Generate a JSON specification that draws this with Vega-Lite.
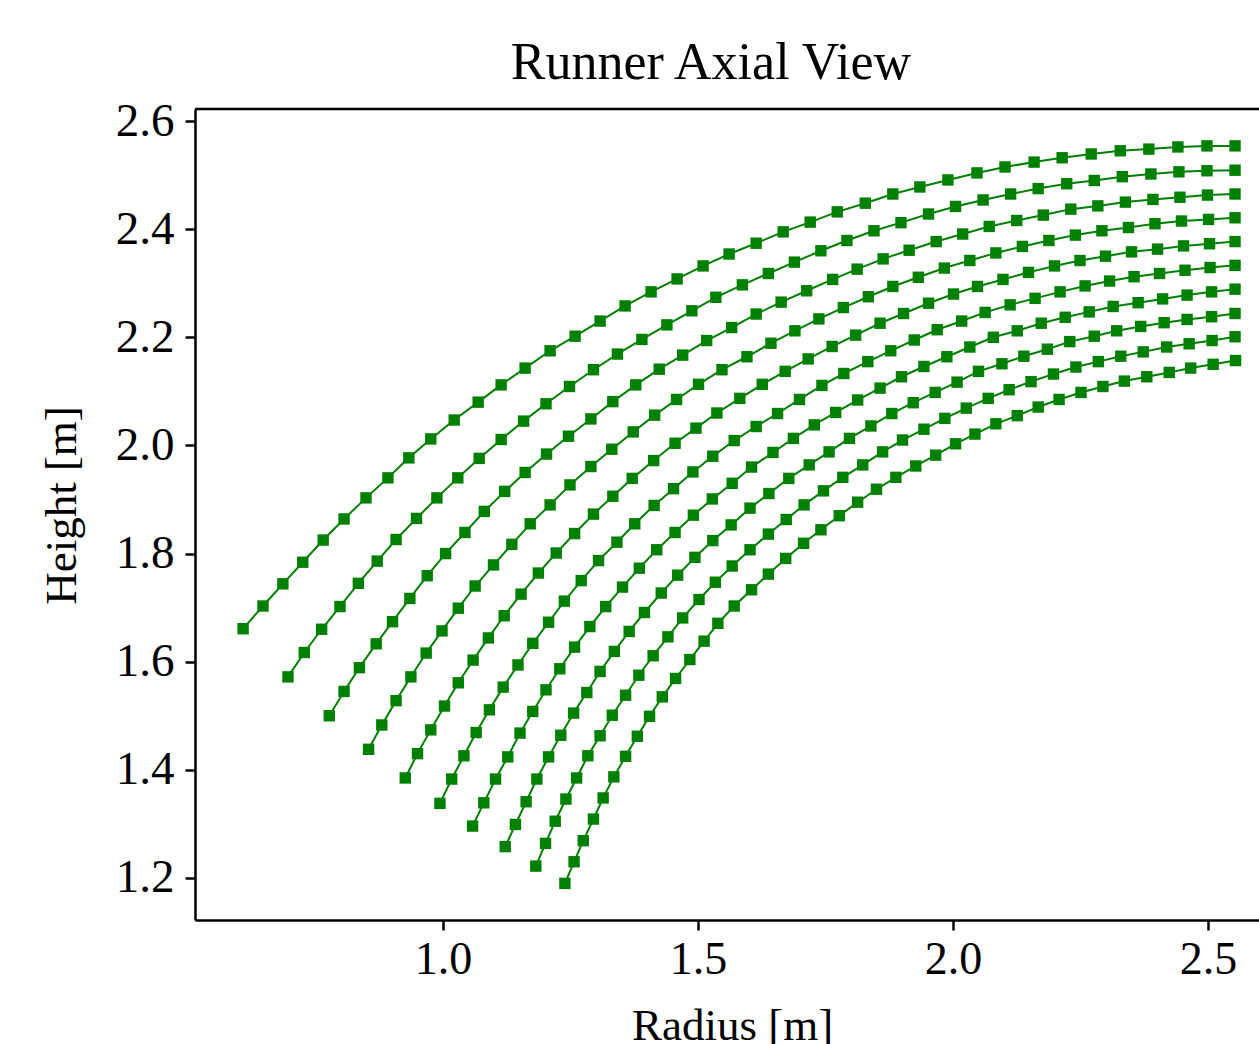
{
  "$schema": "https://vega.github.io/schema/vega-lite/v6.json",
  "width": 1064,
  "height": 811,
  "autosize": {"type": "none"},
  "padding": {"left": 195, "top": 109, "right": 0, "bottom": 124},
  "background": "white",
  "config": {"view": {"stroke": null}, "font": "Liberation Serif"},
  "title": {"text": "Runner Axial View", "font": "Liberation Serif", "fontSize": 52, "fontWeight": "normal", "color": "black", "anchor": "middle", "frame": "group", "dx": -16, "dy": 46, "offset": 12, "baseline": "alphabetic"},
  "layer": [
    {
      "data": {"values": [
        {"c":1,"r":0.608,"h":1.661},{"c":1,"r":0.647,"h":1.703},{"c":1,"r":0.686,"h":1.744},{"c":1,"r":0.725,"h":1.784},{"c":1,"r":0.765,"h":1.825},{"c":1,"r":0.806,"h":1.864},{"c":1,"r":0.849,"h":1.903},{"c":1,"r":0.892,"h":1.940},{"c":1,"r":0.933,"h":1.977},{"c":1,"r":0.976,"h":2.012},
        {"c":1,"r":1.022,"h":2.047},{"c":1,"r":1.069,"h":2.080},{"c":1,"r":1.114,"h":2.112},{"c":1,"r":1.161,"h":2.143},{"c":1,"r":1.210,"h":2.175},{"c":1,"r":1.259,"h":2.202},{"c":1,"r":1.308,"h":2.230},{"c":1,"r":1.357,"h":2.258},{"c":1,"r":1.408,"h":2.284},{"c":1,"r":1.459,"h":2.308},
        {"c":1,"r":1.510,"h":2.332},{"c":1,"r":1.561,"h":2.354},{"c":1,"r":1.614,"h":2.374},{"c":1,"r":1.667,"h":2.395},{"c":1,"r":1.720,"h":2.413},{"c":1,"r":1.773,"h":2.432},{"c":1,"r":1.828,"h":2.448},{"c":1,"r":1.882,"h":2.465},{"c":1,"r":1.935,"h":2.478},{"c":1,"r":1.990,"h":2.491},
        {"c":1,"r":2.047,"h":2.504},{"c":1,"r":2.102,"h":2.515},{"c":1,"r":2.159,"h":2.524},{"c":1,"r":2.214,"h":2.532},{"c":1,"r":2.271,"h":2.539},{"c":1,"r":2.328,"h":2.545},{"c":1,"r":2.384,"h":2.548},{"c":1,"r":2.441,"h":2.552},{"c":1,"r":2.498,"h":2.554},{"c":1,"r":2.553,"h":2.554},
        {"c":2,"r":0.696,"h":1.572},{"c":2,"r":0.728,"h":1.617},{"c":2,"r":0.762,"h":1.660},{"c":2,"r":0.798,"h":1.702},{"c":2,"r":0.834,"h":1.745},{"c":2,"r":0.871,"h":1.786},{"c":2,"r":0.908,"h":1.826},{"c":2,"r":0.948,"h":1.865},{"c":2,"r":0.988,"h":1.903},{"c":2,"r":1.029,"h":1.940},
        {"c":2,"r":1.071,"h":1.976},{"c":2,"r":1.114,"h":2.011},{"c":2,"r":1.158,"h":2.045},{"c":2,"r":1.202,"h":2.077},{"c":2,"r":1.248,"h":2.109},{"c":2,"r":1.295,"h":2.140},{"c":2,"r":1.342,"h":2.169},{"c":2,"r":1.390,"h":2.196},{"c":2,"r":1.439,"h":2.223},{"c":2,"r":1.488,"h":2.249},
        {"c":2,"r":1.535,"h":2.274},{"c":2,"r":1.587,"h":2.297},{"c":2,"r":1.638,"h":2.318},{"c":2,"r":1.689,"h":2.339},{"c":2,"r":1.741,"h":2.360},{"c":2,"r":1.792,"h":2.379},{"c":2,"r":1.845,"h":2.397},{"c":2,"r":1.898,"h":2.412},{"c":2,"r":1.952,"h":2.428},{"c":2,"r":2.005,"h":2.442},
        {"c":2,"r":2.059,"h":2.454},{"c":2,"r":2.113,"h":2.465},{"c":2,"r":2.167,"h":2.475},{"c":2,"r":2.223,"h":2.484},{"c":2,"r":2.277,"h":2.490},{"c":2,"r":2.332,"h":2.497},{"c":2,"r":2.388,"h":2.502},{"c":2,"r":2.443,"h":2.506},{"c":2,"r":2.498,"h":2.508},{"c":2,"r":2.553,"h":2.509},
        {"c":3,"r":0.777,"h":1.500},{"c":3,"r":0.806,"h":1.545},{"c":3,"r":0.836,"h":1.589},{"c":3,"r":0.869,"h":1.633},{"c":3,"r":0.901,"h":1.674},{"c":3,"r":0.935,"h":1.717},{"c":3,"r":0.969,"h":1.759},{"c":3,"r":1.005,"h":1.800},{"c":3,"r":1.043,"h":1.839},{"c":3,"r":1.081,"h":1.878},
        {"c":3,"r":1.121,"h":1.915},{"c":3,"r":1.161,"h":1.950},{"c":3,"r":1.203,"h":1.984},{"c":3,"r":1.246,"h":2.017},{"c":3,"r":1.290,"h":2.049},{"c":3,"r":1.333,"h":2.081},{"c":3,"r":1.378,"h":2.112},{"c":3,"r":1.424,"h":2.141},{"c":3,"r":1.470,"h":2.167},{"c":3,"r":1.517,"h":2.194},
        {"c":3,"r":1.566,"h":2.218},{"c":3,"r":1.614,"h":2.243},{"c":3,"r":1.663,"h":2.265},{"c":3,"r":1.713,"h":2.286},{"c":3,"r":1.764,"h":2.307},{"c":3,"r":1.812,"h":2.326},{"c":3,"r":1.863,"h":2.345},{"c":3,"r":1.914,"h":2.361},{"c":3,"r":1.967,"h":2.377},{"c":3,"r":2.019,"h":2.391},
        {"c":3,"r":2.071,"h":2.405},{"c":3,"r":2.125,"h":2.416},{"c":3,"r":2.177,"h":2.426},{"c":3,"r":2.231,"h":2.437},{"c":3,"r":2.284,"h":2.443},{"c":3,"r":2.338,"h":2.450},{"c":3,"r":2.392,"h":2.455},{"c":3,"r":2.445,"h":2.459},{"c":3,"r":2.499,"h":2.463},{"c":3,"r":2.553,"h":2.465},
        {"c":4,"r":0.854,"h":1.438},{"c":4,"r":0.880,"h":1.483},{"c":4,"r":0.908,"h":1.528},{"c":4,"r":0.937,"h":1.572},{"c":4,"r":0.967,"h":1.616},{"c":4,"r":0.998,"h":1.657},{"c":4,"r":1.030,"h":1.699},{"c":4,"r":1.063,"h":1.740},{"c":4,"r":1.099,"h":1.779},{"c":4,"r":1.135,"h":1.817},
        {"c":4,"r":1.171,"h":1.855},{"c":4,"r":1.210,"h":1.890},{"c":4,"r":1.249,"h":1.927},{"c":4,"r":1.290,"h":1.961},{"c":4,"r":1.331,"h":1.993},{"c":4,"r":1.373,"h":2.025},{"c":4,"r":1.415,"h":2.056},{"c":4,"r":1.458,"h":2.085},{"c":4,"r":1.501,"h":2.113},{"c":4,"r":1.547,"h":2.140},
        {"c":4,"r":1.596,"h":2.164},{"c":4,"r":1.643,"h":2.189},{"c":4,"r":1.690,"h":2.212},{"c":4,"r":1.737,"h":2.234},{"c":4,"r":1.785,"h":2.255},{"c":4,"r":1.834,"h":2.275},{"c":4,"r":1.882,"h":2.294},{"c":4,"r":1.932,"h":2.311},{"c":4,"r":1.983,"h":2.328},{"c":4,"r":2.033,"h":2.342},
        {"c":4,"r":2.084,"h":2.356},{"c":4,"r":2.136,"h":2.368},{"c":4,"r":2.188,"h":2.379},{"c":4,"r":2.240,"h":2.389},{"c":4,"r":2.292,"h":2.397},{"c":4,"r":2.344,"h":2.403},{"c":4,"r":2.396,"h":2.410},{"c":4,"r":2.448,"h":2.415},{"c":4,"r":2.501,"h":2.418},{"c":4,"r":2.553,"h":2.421},
        {"c":5,"r":0.926,"h":1.385},{"c":5,"r":0.950,"h":1.430},{"c":5,"r":0.976,"h":1.474},{"c":5,"r":1.003,"h":1.518},{"c":5,"r":1.030,"h":1.561},{"c":5,"r":1.059,"h":1.603},{"c":5,"r":1.089,"h":1.644},{"c":5,"r":1.120,"h":1.685},{"c":5,"r":1.153,"h":1.725},{"c":5,"r":1.187,"h":1.764},
        {"c":5,"r":1.222,"h":1.801},{"c":5,"r":1.258,"h":1.837},{"c":5,"r":1.295,"h":1.873},{"c":5,"r":1.333,"h":1.906},{"c":5,"r":1.371,"h":1.939},{"c":5,"r":1.413,"h":1.972},{"c":5,"r":1.455,"h":2.004},{"c":5,"r":1.496,"h":2.032},{"c":5,"r":1.537,"h":2.060},{"c":5,"r":1.582,"h":2.087},
        {"c":5,"r":1.626,"h":2.113},{"c":5,"r":1.671,"h":2.137},{"c":5,"r":1.716,"h":2.160},{"c":5,"r":1.763,"h":2.183},{"c":5,"r":1.809,"h":2.204},{"c":5,"r":1.857,"h":2.226},{"c":5,"r":1.903,"h":2.244},{"c":5,"r":1.952,"h":2.263},{"c":5,"r":2.001,"h":2.280},{"c":5,"r":2.048,"h":2.294},
        {"c":5,"r":2.098,"h":2.307},{"c":5,"r":2.148,"h":2.320},{"c":5,"r":2.199,"h":2.332},{"c":5,"r":2.249,"h":2.342},{"c":5,"r":2.299,"h":2.350},{"c":5,"r":2.350,"h":2.358},{"c":5,"r":2.401,"h":2.363},{"c":5,"r":2.452,"h":2.369},{"c":5,"r":2.503,"h":2.373},{"c":5,"r":2.553,"h":2.377},
        {"c":6,"r":0.994,"h":1.338},{"c":6,"r":1.017,"h":1.383},{"c":6,"r":1.041,"h":1.426},{"c":6,"r":1.065,"h":1.469},{"c":6,"r":1.091,"h":1.511},{"c":6,"r":1.118,"h":1.553},{"c":6,"r":1.147,"h":1.594},{"c":6,"r":1.176,"h":1.634},{"c":6,"r":1.207,"h":1.673},{"c":6,"r":1.238,"h":1.712},
        {"c":6,"r":1.271,"h":1.750},{"c":6,"r":1.305,"h":1.787},{"c":6,"r":1.341,"h":1.821},{"c":6,"r":1.376,"h":1.855},{"c":6,"r":1.414,"h":1.889},{"c":6,"r":1.452,"h":1.920},{"c":6,"r":1.490,"h":1.951},{"c":6,"r":1.529,"h":1.980},{"c":6,"r":1.571,"h":2.009},{"c":6,"r":1.614,"h":2.035},
        {"c":6,"r":1.656,"h":2.059},{"c":6,"r":1.699,"h":2.085},{"c":6,"r":1.743,"h":2.111},{"c":6,"r":1.786,"h":2.133},{"c":6,"r":1.833,"h":2.155},{"c":6,"r":1.878,"h":2.175},{"c":6,"r":1.924,"h":2.195},{"c":6,"r":1.969,"h":2.214},{"c":6,"r":2.017,"h":2.230},{"c":6,"r":2.063,"h":2.246},
        {"c":6,"r":2.112,"h":2.260},{"c":6,"r":2.161,"h":2.272},{"c":6,"r":2.210,"h":2.284},{"c":6,"r":2.259,"h":2.295},{"c":6,"r":2.307,"h":2.304},{"c":6,"r":2.355,"h":2.312},{"c":6,"r":2.405,"h":2.318},{"c":6,"r":2.455,"h":2.324},{"c":6,"r":2.504,"h":2.329},{"c":6,"r":2.553,"h":2.333},
        {"c":7,"r":1.058,"h":1.296},{"c":7,"r":1.080,"h":1.339},{"c":7,"r":1.103,"h":1.383},{"c":7,"r":1.127,"h":1.424},{"c":7,"r":1.151,"h":1.468},{"c":7,"r":1.176,"h":1.508},{"c":7,"r":1.202,"h":1.548},{"c":7,"r":1.229,"h":1.587},{"c":7,"r":1.258,"h":1.627},{"c":7,"r":1.288,"h":1.665},
        {"c":7,"r":1.319,"h":1.702},{"c":7,"r":1.352,"h":1.738},{"c":7,"r":1.385,"h":1.773},{"c":7,"r":1.419,"h":1.807},{"c":7,"r":1.455,"h":1.839},{"c":7,"r":1.491,"h":1.871},{"c":7,"r":1.528,"h":1.901},{"c":7,"r":1.567,"h":1.930},{"c":7,"r":1.605,"h":1.960},{"c":7,"r":1.647,"h":1.987},
        {"c":7,"r":1.687,"h":2.013},{"c":7,"r":1.728,"h":2.038},{"c":7,"r":1.770,"h":2.061},{"c":7,"r":1.813,"h":2.084},{"c":7,"r":1.857,"h":2.106},{"c":7,"r":1.899,"h":2.127},{"c":7,"r":1.943,"h":2.146},{"c":7,"r":1.988,"h":2.164},{"c":7,"r":2.033,"h":2.182},{"c":7,"r":2.079,"h":2.200},
        {"c":7,"r":2.126,"h":2.212},{"c":7,"r":2.173,"h":2.226},{"c":7,"r":2.220,"h":2.237},{"c":7,"r":2.267,"h":2.247},{"c":7,"r":2.314,"h":2.257},{"c":7,"r":2.363,"h":2.264},{"c":7,"r":2.411,"h":2.271},{"c":7,"r":2.459,"h":2.278},{"c":7,"r":2.507,"h":2.284},{"c":7,"r":2.553,"h":2.289},
        {"c":8,"r":1.122,"h":1.258},{"c":8,"r":1.142,"h":1.299},{"c":8,"r":1.163,"h":1.341},{"c":8,"r":1.184,"h":1.383},{"c":8,"r":1.207,"h":1.424},{"c":8,"r":1.231,"h":1.464},{"c":8,"r":1.256,"h":1.505},{"c":8,"r":1.282,"h":1.543},{"c":8,"r":1.308,"h":1.582},{"c":8,"r":1.336,"h":1.619},
        {"c":8,"r":1.365,"h":1.656},{"c":8,"r":1.395,"h":1.691},{"c":8,"r":1.428,"h":1.727},{"c":8,"r":1.460,"h":1.760},{"c":8,"r":1.494,"h":1.793},{"c":8,"r":1.529,"h":1.824},{"c":8,"r":1.565,"h":1.853},{"c":8,"r":1.602,"h":1.884},{"c":8,"r":1.639,"h":1.911},{"c":8,"r":1.678,"h":1.939},
        {"c":8,"r":1.718,"h":1.964},{"c":8,"r":1.757,"h":1.988},{"c":8,"r":1.797,"h":2.013},{"c":8,"r":1.839,"h":2.036},{"c":8,"r":1.880,"h":2.059},{"c":8,"r":1.922,"h":2.079},{"c":8,"r":1.965,"h":2.098},{"c":8,"r":2.008,"h":2.117},{"c":8,"r":2.050,"h":2.137},{"c":8,"r":2.096,"h":2.151},
        {"c":8,"r":2.139,"h":2.165},{"c":8,"r":2.185,"h":2.178},{"c":8,"r":2.229,"h":2.192},{"c":8,"r":2.277,"h":2.202},{"c":8,"r":2.321,"h":2.212},{"c":8,"r":2.368,"h":2.220},{"c":8,"r":2.414,"h":2.227},{"c":8,"r":2.459,"h":2.233},{"c":8,"r":2.507,"h":2.238},{"c":8,"r":2.553,"h":2.244},
        {"c":9,"r":1.182,"h":1.222},{"c":9,"r":1.201,"h":1.264},{"c":9,"r":1.220,"h":1.305},{"c":9,"r":1.241,"h":1.346},{"c":9,"r":1.262,"h":1.385},{"c":9,"r":1.284,"h":1.426},{"c":9,"r":1.308,"h":1.463},{"c":9,"r":1.332,"h":1.501},{"c":9,"r":1.358,"h":1.538},{"c":9,"r":1.384,"h":1.575},
        {"c":9,"r":1.412,"h":1.611},{"c":9,"r":1.441,"h":1.646},{"c":9,"r":1.470,"h":1.681},{"c":9,"r":1.502,"h":1.715},{"c":9,"r":1.534,"h":1.747},{"c":9,"r":1.567,"h":1.777},{"c":9,"r":1.602,"h":1.807},{"c":9,"r":1.638,"h":1.836},{"c":9,"r":1.673,"h":1.863},{"c":9,"r":1.708,"h":1.890},
        {"c":9,"r":1.746,"h":1.916},{"c":9,"r":1.784,"h":1.941},{"c":9,"r":1.823,"h":1.964},{"c":9,"r":1.862,"h":1.988},{"c":9,"r":1.901,"h":2.010},{"c":9,"r":1.943,"h":2.030},{"c":9,"r":1.984,"h":2.050},{"c":9,"r":2.026,"h":2.069},{"c":9,"r":2.069,"h":2.087},{"c":9,"r":2.110,"h":2.103},
        {"c":9,"r":2.153,"h":2.118},{"c":9,"r":2.197,"h":2.132},{"c":9,"r":2.241,"h":2.145},{"c":9,"r":2.285,"h":2.155},{"c":9,"r":2.329,"h":2.165},{"c":9,"r":2.373,"h":2.173},{"c":9,"r":2.419,"h":2.182},{"c":9,"r":2.463,"h":2.188},{"c":9,"r":2.508,"h":2.194},{"c":9,"r":2.553,"h":2.201},
        {"c":10,"r":1.239,"h":1.190},{"c":10,"r":1.257,"h":1.230},{"c":10,"r":1.275,"h":1.269},{"c":10,"r":1.295,"h":1.309},{"c":10,"r":1.314,"h":1.348},{"c":10,"r":1.335,"h":1.387},{"c":10,"r":1.358,"h":1.425},{"c":10,"r":1.381,"h":1.462},{"c":10,"r":1.405,"h":1.499},{"c":10,"r":1.430,"h":1.535},
        {"c":10,"r":1.456,"h":1.569},{"c":10,"r":1.484,"h":1.604},{"c":10,"r":1.512,"h":1.638},{"c":10,"r":1.539,"h":1.671},{"c":10,"r":1.571,"h":1.703},{"c":10,"r":1.605,"h":1.733},{"c":10,"r":1.638,"h":1.762},{"c":10,"r":1.672,"h":1.791},{"c":10,"r":1.707,"h":1.819},{"c":10,"r":1.741,"h":1.844},
        {"c":10,"r":1.777,"h":1.870},{"c":10,"r":1.813,"h":1.895},{"c":10,"r":1.850,"h":1.919},{"c":10,"r":1.888,"h":1.941},{"c":10,"r":1.927,"h":1.962},{"c":10,"r":1.966,"h":1.982},{"c":10,"r":2.005,"h":2.003},{"c":10,"r":2.043,"h":2.021},{"c":10,"r":2.084,"h":2.040},{"c":10,"r":2.126,"h":2.055},
        {"c":10,"r":2.167,"h":2.071},{"c":10,"r":2.208,"h":2.085},{"c":10,"r":2.251,"h":2.098},{"c":10,"r":2.294,"h":2.109},{"c":10,"r":2.336,"h":2.119},{"c":10,"r":2.380,"h":2.127},{"c":10,"r":2.424,"h":2.135},{"c":10,"r":2.466,"h":2.143},{"c":10,"r":2.510,"h":2.150},{"c":10,"r":2.554,"h":2.157}
      ]},
      "encoding": {
        "x": {"field": "r", "type": "quantitative",
          "scale": {"domain": [0.5137, 2.6], "nice": false, "zero": false},
          "axis": {"values": [1.0, 1.5, 2.0, 2.5], "format": ".1f", "title": "Radius [m]", "grid": false,
            "tickSize": 10, "tickWidth": 2.5, "tickColor": "black", "domainColor": "black", "domainWidth": 2.5,
            "labelFont": "Liberation Serif", "labelFontSize": 46, "labelColor": "black", "labelPadding": 7, "labelFlush": false, "labelOverlap": false,
            "titleFont": "Liberation Serif", "titleFontSize": 45, "titleFontWeight": "normal", "titleColor": "black",
            "titleX": 537, "titleY": 119, "titleBaseline": "alphabetic", "titleAlign": "center"}},
        "y": {"field": "h", "type": "quantitative",
          "scale": {"domain": [1.1223, 2.6222], "nice": false, "zero": false},
          "axis": {"values": [1.2, 1.4, 1.6, 1.8, 2.0, 2.2, 2.4, 2.6], "format": ".1f", "title": "Height [m]", "grid": false,
            "tickSize": 10, "tickWidth": 2.5, "tickColor": "black", "domainColor": "black", "domainWidth": 2.5,
            "labelFont": "Liberation Serif", "labelFontSize": 47, "labelColor": "black", "labelPadding": 11, "labelOverlap": false, "labelFlush": false,
            "titleFont": "Liberation Serif", "titleFontSize": 45, "titleFontWeight": "normal", "titleColor": "black",
            "titleX": -120, "titleY": 396, "titleAngle": -90, "titleBaseline": "alphabetic", "titleAlign": "center"}},
        "detail": {"field": "c", "type": "nominal"}
      },
      "layer": [
        {"mark": {"type": "line", "color": "#008000", "strokeWidth": 2}},
        {"mark": {"type": "point", "shape": "square", "filled": true, "size": 130, "color": "#008000", "opacity": 1}}
      ]
    },
    {
      "data": {"values": [{}]},
      "mark": {"type": "rule", "color": "black", "strokeWidth": 2.5},
      "encoding": {"y": {"datum": 2.6222, "type": "quantitative",
        "scale": {"domain": [1.1223, 2.6222], "nice": false, "zero": false},
        "axis": {"values": [1.2, 1.4, 1.6, 1.8, 2.0, 2.2, 2.4, 2.6], "format": ".1f", "title": "Height [m]", "grid": false,
            "tickSize": 10, "tickWidth": 2.5, "tickColor": "black", "domainColor": "black", "domainWidth": 2.5,
            "labelFont": "Liberation Serif", "labelFontSize": 47, "labelColor": "black", "labelPadding": 11, "labelOverlap": false, "labelFlush": false,
            "titleFont": "Liberation Serif", "titleFontSize": 45, "titleFontWeight": "normal", "titleColor": "black",
            "titleX": -120, "titleY": 396, "titleAngle": -90, "titleBaseline": "alphabetic", "titleAlign": "center"}}}
    }
  ]
}
